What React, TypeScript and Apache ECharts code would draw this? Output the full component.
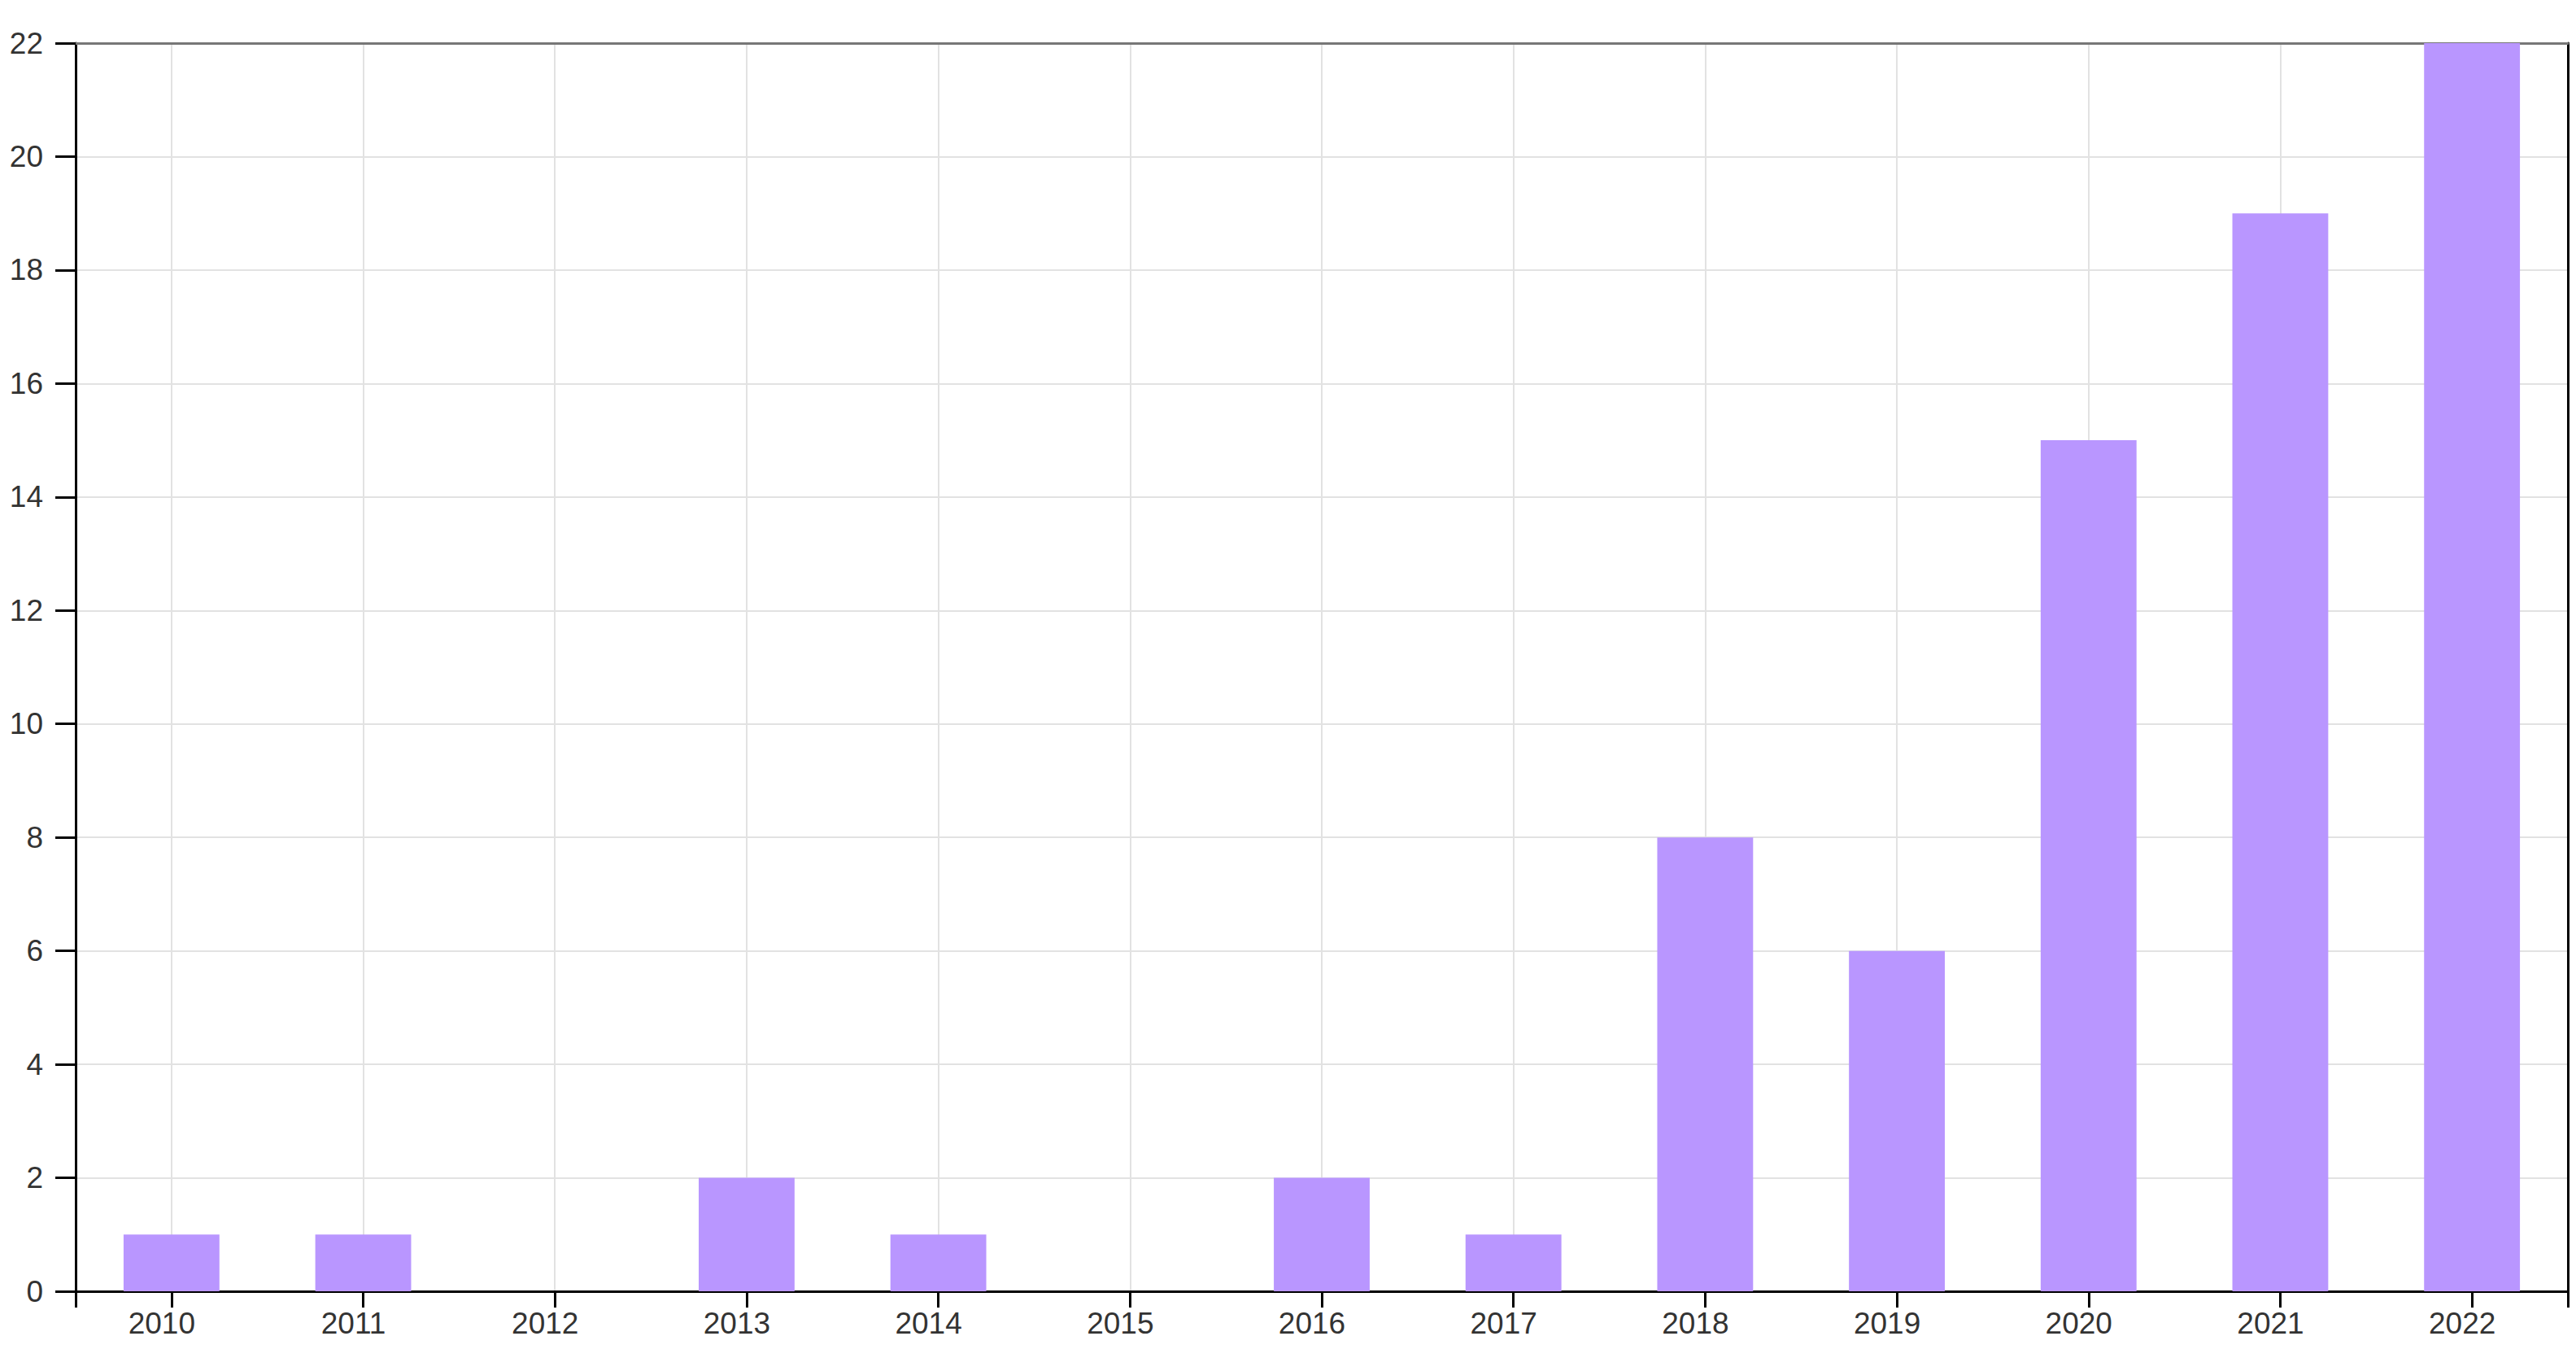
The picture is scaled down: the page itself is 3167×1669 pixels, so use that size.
import React, { useEffect, useRef } from "react";
import * as echarts from "echarts";

const years = ["2010", "2011", "2012", "2013", "2014", "2015", "2016", "2017", "2018", "2019", "2020", "2021", "2022"];
const counts = [1, 1, 0, 2, 1, 0, 2, 1, 8, 6, 15, 19, 22];
const yMin = 0;
const yMax = 22;
const yStep = 2;

const FONT = "Liberation Sans, Arial, sans-serif";

export default function App() {
  const ref = useRef<HTMLDivElement>(null);
  useEffect(() => {
    if (!ref.current) return;
    const chart = echarts.init(ref.current, null, { renderer: "svg" });
    chart.setOption({
      animation: false,
      backgroundColor: "#ffffff",
      grid: { left: 93, right: 10, top: 53, bottom: 82, containLabel: false },
      xAxis: [
        {
          type: "category",
          data: years,
          position: "bottom",
          boundaryGap: true,
          axisLine: { show: true, onZero: false, lineStyle: { color: "#000", width: 3 } },
          axisTick: { show: true, alignWithLabel: true, length: 20, lineStyle: { color: "#000", width: 3 } },
          axisLabel: { color: "#333", fontSize: 37, fontFamily: FONT, margin: 21, padding: [0, 24, 0, 0] },
          splitLine: { show: true, alignWithLabel: true, lineStyle: { color: "#e2e2e2", width: 2 } },
        },
        {
          type: "value",
          position: "bottom",
          min: 0,
          max: 1,
          interval: 1,
          axisLine: { show: false },
          axisTick: { show: true, length: 20, lineStyle: { color: "#000", width: 3 } },
          axisLabel: { show: false },
          splitLine: { show: false },
        },
        {
          type: "value",
          position: "top",
          min: 0,
          max: 1,
          interval: 1,
          axisLine: { show: true, onZero: false, lineStyle: { color: "#777", width: 3 } },
          axisTick: { show: false },
          axisLabel: { show: false },
          splitLine: { show: false },
        },
      ],
      yAxis: [
        {
          type: "value",
          position: "left",
          min: yMin,
          max: yMax,
          interval: yStep,
          axisLine: { show: true, onZero: false, lineStyle: { color: "#000", width: 3 } },
          axisTick: { show: true, length: 25, lineStyle: { color: "#000", width: 3 } },
          axisLabel: { color: "#333", fontSize: 37, fontFamily: FONT, margin: 40 },
          splitLine: { show: true, lineStyle: { color: "#e2e2e2", width: 2 } },
        },
        {
          type: "value",
          position: "right",
          min: yMin,
          max: yMax,
          interval: yStep,
          axisLine: { show: true, onZero: false, lineStyle: { color: "#000", width: 3 } },
          axisTick: { show: false },
          axisLabel: { show: false },
          splitLine: { show: false },
        },
      ],
      series: [
        {
          type: "bar",
          xAxisIndex: 0,
          yAxisIndex: 0,
          data: counts,
          barWidth: "50%",
          itemStyle: { color: "#b996ff" },
        },
      ],
    });
    return () => chart.dispose();
  }, []);
  return (
    <div
      ref={ref}
      style={{ position: "absolute", left: 0, top: 0, width: 3167, height: 1669 }}
    />
  );
}
